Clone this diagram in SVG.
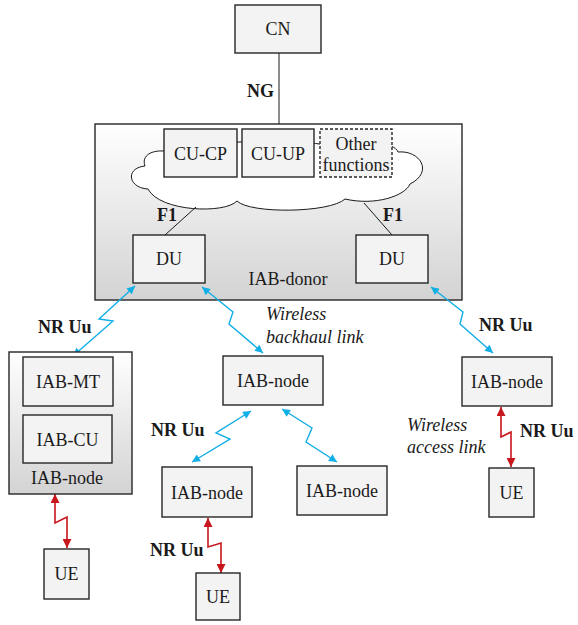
<svg xmlns="http://www.w3.org/2000/svg" width="578" height="625" viewBox="0 0 578 625">
<defs>
<linearGradient id="grad" x1="0" y1="0" x2="0" y2="1">
<stop offset="0" stop-color="#ffffff"/>
<stop offset="1" stop-color="#d3d3d3"/>
</linearGradient>
<marker id="ab" viewBox="0 0 10 10" refX="10" refY="5" markerWidth="10" markerHeight="8" markerUnits="userSpaceOnUse" orient="auto-start-reverse">
<path d="M0,0 L10,5 L0,10 z" fill="#12aee6"/>
</marker>
<marker id="ar" viewBox="0 0 10 10" refX="10" refY="5" markerWidth="10" markerHeight="9" markerUnits="userSpaceOnUse" orient="auto-start-reverse">
<path d="M0,0 L10,5 L0,10 z" fill="#c8161d"/>
</marker>
</defs>
<style>
text{font-family:"Liberation Serif","Times New Roman",serif;font-size:18px;fill:#1a1a1a}
.c{text-anchor:middle}
.b{font-weight:bold}
.i{font-style:italic}
.box{fill:#f3f3f3;stroke:#262626;stroke-width:1.4}
.cont{fill:url(#grad);stroke:#262626;stroke-width:1.4}
.ln{fill:none;stroke:#1a1a1a;stroke-width:1}
.bl{fill:none;stroke:#12aee6;stroke-width:1.4;marker-start:url(#ab);marker-end:url(#ab)}
.rd{fill:none;stroke:#c8161d;stroke-width:1.6;marker-start:url(#ar);marker-end:url(#ar)}
</style>

<g id="iab-donor">
<rect class="cont" x="95" y="124" width="367" height="176"/>
<path d="M145,166 C140,152 160,148 172,153 C195,140 300,138 330,146 C360,138 395,142 398,152 C420,150 434,172 410,184 C405,196 375,206 345,199 C330,213 250,214 237,201 C225,214 160,212 148,189 C128,188 125,168 145,166 Z" fill="#ffffff" stroke="#1a1a1a" stroke-width="1"/>
<text class="c" x="288" y="285">IAB-donor</text>
</g>

<g id="connectors">
<line class="ln" x1="279" y1="53" x2="279" y2="124"/>
<line class="ln" x1="196" y1="207" x2="165" y2="235"/>
<line class="ln" x1="364" y1="203" x2="392" y2="235"/>
<path class="bl" d="M135,286 L99,319 L113,321 L73,356"/>
<path class="bl" d="M202,287 L233,312 L229,324 L263,353"/>
<path class="bl" d="M431,287 L463,312 L460,324 L493,353"/>
<path class="bl" d="M251,411 L216,433 L230,439 L192,462"/>
<path class="bl" d="M282,409 L312,428 L306,442 L337,462"/>
<path class="rd" d="M55,494 L55,523 L67,517 L67,548"/>
<path class="rd" d="M208,518 L208,547 L221,543 L221,573"/>
<path class="rd" d="M501,407 L501,437 L511,432 L511,467"/>
</g>

<g id="cn">
<rect class="box" x="235" y="5" width="86" height="48"/>
<text class="c" x="278" y="35">CN</text>
</g>
<text class="b" x="247" y="97">NG</text>

<g id="cu-cp">
<rect class="box" x="164" y="129" width="73" height="48"/>
<text class="c" x="200.5" y="160">CU-CP</text>
</g>
<g id="cu-up">
<rect class="box" x="242" y="129" width="72" height="48"/>
<text class="c" x="278" y="160">CU-UP</text>
</g>
<g id="other-functions">
<rect class="box" x="320" y="129" width="72" height="48" style="stroke-dasharray:3,2"/>
<text class="c" x="356" y="150">Other</text>
<text class="c" x="356" y="171">functions</text>
</g>

<text class="b" x="157" y="221">F1</text>
<text class="b" x="383" y="221">F1</text>

<g id="du-left">
<rect class="box" x="133" y="235" width="72" height="48"/>
<text class="c" x="169" y="265">DU</text>
</g>
<g id="du-right">
<rect class="box" x="356" y="235" width="72" height="48"/>
<text class="c" x="392" y="265">DU</text>
</g>

<text class="b" x="38" y="333">NR Uu</text>
<text class="i" x="266" y="320">Wireless</text>
<text class="i" x="266" y="343">backhaul link</text>
<text class="b" x="479" y="331">NR Uu</text>

<g id="iab-node-left">
<rect class="cont" x="9" y="352" width="123" height="142"/>
<rect class="box" x="23" y="357" width="90" height="49"/>
<text class="c" x="68" y="388">IAB-MT</text>
<rect class="box" x="23" y="415" width="89" height="48"/>
<text class="c" x="67.5" y="446">IAB-CU</text>
<text class="c" x="67" y="484">IAB-node</text>
</g>

<g id="iab-node-mid">
<rect class="box" x="223" y="356" width="100" height="49"/>
<text class="c" x="273" y="387">IAB-node</text>
</g>
<g id="iab-node-right">
<rect class="box" x="462" y="357" width="90" height="49"/>
<text class="c" x="507" y="388">IAB-node</text>
</g>

<text class="b" x="151" y="436">NR Uu</text>
<text class="i" x="407" y="431">Wireless</text>
<text class="i" x="407" y="453">access link</text>
<text class="b" x="520" y="437">NR Uu</text>

<g id="iab-node-child1">
<rect class="box" x="162" y="467" width="90" height="50"/>
<text class="c" x="207" y="499">IAB-node</text>
</g>
<g id="iab-node-child2">
<rect class="box" x="297" y="466" width="90" height="49"/>
<text class="c" x="342" y="497">IAB-node</text>
</g>
<g id="ue-right">
<rect class="box" x="489" y="468" width="45" height="49"/>
<text class="c" x="511.5" y="499">UE</text>
</g>

<text class="b" x="150" y="556">NR Uu</text>

<g id="ue-left">
<rect class="box" x="44" y="549" width="45" height="50"/>
<text class="c" x="66.5" y="580">UE</text>
</g>
<g id="ue-bottom">
<rect class="box" x="196" y="573" width="44" height="47"/>
<text class="c" x="218" y="603">UE</text>
</g>
</svg>
